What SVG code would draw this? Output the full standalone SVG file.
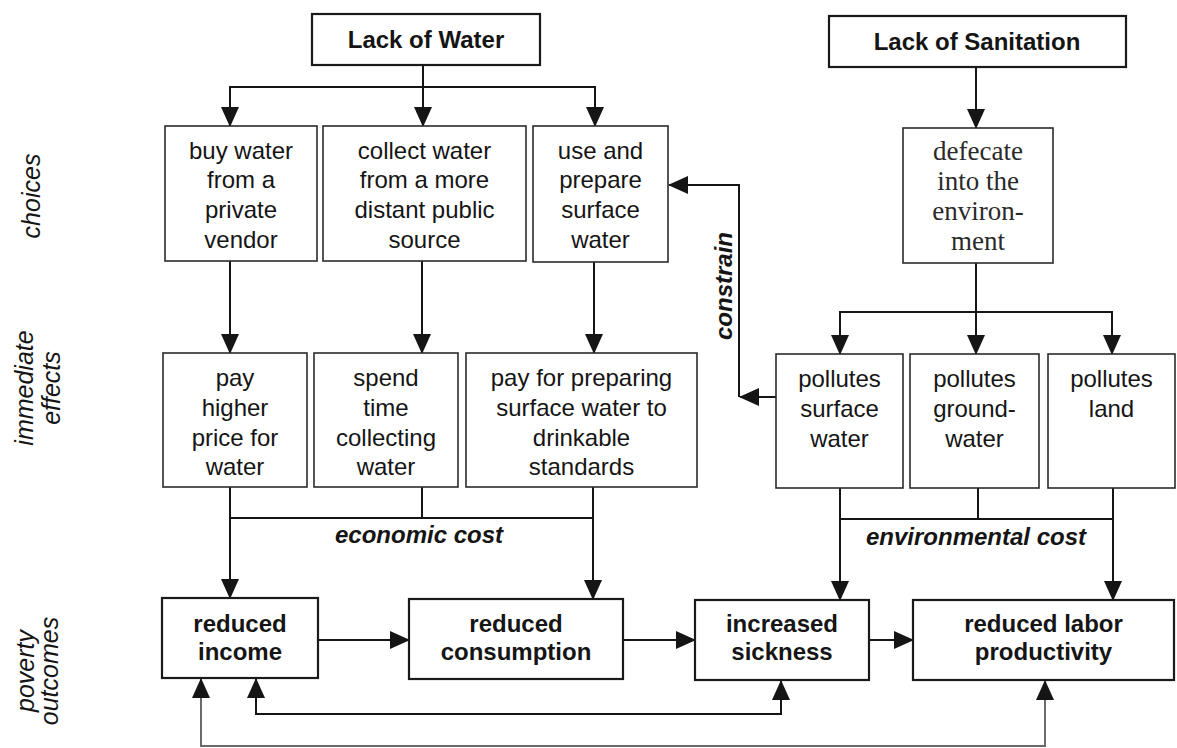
<svg xmlns="http://www.w3.org/2000/svg" width="1177" height="748" viewBox="0 0 1177 748">
<defs>
<style>
.box{fill:#fff;stroke:#2b2b2b;stroke-width:1.6}
.bx2{stroke:#1a1a1a;stroke-width:2.2}
.t{font-family:"Liberation Sans",Arial,Helvetica,sans-serif;font-size:24px;fill:#151515;text-anchor:middle}
.b{font-weight:bold}
.i{font-style:italic}
.s{font-family:"Liberation Serif","Times New Roman",serif;font-size:27px;fill:#2a2a2a}
.lab{font-size:25px}
.c{fill:none;stroke:#151515;stroke-width:2}
.g{stroke:#6a6a6a}
</style>
<marker id="ah" markerUnits="userSpaceOnUse" markerWidth="20" markerHeight="18" refX="19" refY="9" orient="auto-start-reverse" viewBox="0 0 20 18">
<path d="M0,0 L20,9 L0,18 z" fill="#151515"/>
</marker>
</defs>
<rect width="1177" height="748" fill="#fff"/>

<g id="labels">
<text class="t i lab" transform="translate(40,196) rotate(-90)">choices</text>
<text class="t i lab" transform="translate(33,388) rotate(-90)">immediate</text>
<text class="t i lab" transform="translate(60,388) rotate(-90)">effects</text>
<text class="t i lab" transform="translate(34,671) rotate(-90)">poverty</text>
<text class="t i lab" transform="translate(58,671) rotate(-90)">outcomes</text>
</g>

<g id="connectors">
<path class="c" d="M423,65 V126" marker-end="url(#ah)"/>
<path class="c" d="M423,87 H230 V126" marker-end="url(#ah)"/>
<path class="c" d="M423,87 H595 V126" marker-end="url(#ah)"/>
<path class="c" d="M230,261 V353" marker-end="url(#ah)"/>
<path class="c" d="M422,261 V353" marker-end="url(#ah)"/>
<path class="c" d="M594,262 V353" marker-end="url(#ah)"/>
<path class="c" d="M976,67 V128" marker-end="url(#ah)"/>
<path class="c" d="M976,263 V354" marker-end="url(#ah)"/>
<path class="c" d="M976,312 H840 V354" marker-end="url(#ah)"/>
<path class="c" d="M976,312 H1112 V354" marker-end="url(#ah)"/>
<path class="c" d="M776,397 H740" marker-end="url(#ah)"/>
<path class="c" d="M739,397 V185 H669" marker-end="url(#ah)"/>
<path class="c" d="M230,487 V598" marker-end="url(#ah)"/>
<path class="c" d="M422,487 V518"/>
<path class="c" d="M230,518 H593"/>
<path class="c" d="M593,487 V599" marker-end="url(#ah)"/>
<path class="c" d="M840,488 V600" marker-end="url(#ah)"/>
<path class="c" d="M978,488 V519"/>
<path class="c" d="M840,519 H1113"/>
<path class="c" d="M1113,488 V600" marker-end="url(#ah)"/>
<path class="c" d="M318,640 H409" marker-end="url(#ah)"/>
<path class="c" d="M623,640 H695" marker-end="url(#ah)"/>
<path class="c" d="M869,640 H913" marker-end="url(#ah)"/>
<path class="c" d="M256,679 V714 H781 V681" marker-start="url(#ah)" marker-end="url(#ah)"/>
<path class="c g" d="M201,679 V746 H1045 V681" marker-start="url(#ah)" marker-end="url(#ah)"/>
<text class="t b i" x="419" y="543">economic cost</text>
<text class="t b i" x="976" y="545">environmental cost</text>
<text class="t b i" transform="translate(732,286) rotate(-90)">constrain</text>
</g>

<g id="lack-of-water">
<rect class="box bx2" x="312" y="14" width="228" height="51"/>
<text class="t b" x="426" y="48">Lack of Water</text>
</g>
<g id="lack-of-sanitation">
<rect class="box bx2" x="829" y="16" width="297" height="51"/>
<text class="t b" x="977" y="50">Lack of Sanitation</text>
</g>

<g id="buy-water">
<rect class="box" x="165" y="126" width="152" height="135"/>
<text class="t" x="241" y="159">buy water</text>
<text class="t" x="241" y="188">from a</text>
<text class="t" x="241" y="218">private</text>
<text class="t" x="241" y="248">vendor</text>
</g>
<g id="collect-water">
<rect class="box" x="323" y="126" width="203" height="135"/>
<text class="t" x="424.5" y="159">collect water</text>
<text class="t" x="424.5" y="188">from a more</text>
<text class="t" x="424.5" y="218">distant public</text>
<text class="t" x="424.5" y="248">source</text>
</g>
<g id="use-surface-water">
<rect class="box" x="533" y="126" width="135" height="136"/>
<text class="t" x="600.5" y="159">use and</text>
<text class="t" x="600.5" y="188">prepare</text>
<text class="t" x="600.5" y="218">surface</text>
<text class="t" x="600.5" y="248">water</text>
</g>
<g id="defecate">
<rect class="box" x="903" y="128" width="150" height="135"/>
<text class="t s" x="978" y="160">defecate</text>
<text class="t s" x="978" y="190">into the</text>
<text class="t s" x="978" y="220">environ-</text>
<text class="t s" x="978" y="250">ment</text>
</g>

<g id="pay-higher-price">
<rect class="box" x="163" y="353" width="144" height="134"/>
<text class="t" x="235" y="386">pay</text>
<text class="t" x="235" y="416">higher</text>
<text class="t" x="235" y="446">price for</text>
<text class="t" x="235" y="475">water</text>
</g>
<g id="spend-time">
<rect class="box" x="314" y="353" width="144" height="134"/>
<text class="t" x="386" y="386">spend</text>
<text class="t" x="386" y="416">time</text>
<text class="t" x="386" y="446">collecting</text>
<text class="t" x="386" y="475">water</text>
</g>
<g id="pay-for-preparing">
<rect class="box" x="466" y="353" width="231" height="134"/>
<text class="t" x="581.5" y="386">pay for preparing</text>
<text class="t" x="581.5" y="416">surface water to</text>
<text class="t" x="581.5" y="446">drinkable</text>
<text class="t" x="581.5" y="475">standards</text>
</g>
<g id="pollutes-surface-water">
<rect class="box" x="776" y="354" width="127" height="134"/>
<text class="t" x="839.5" y="387">pollutes</text>
<text class="t" x="839.5" y="417">surface</text>
<text class="t" x="839.5" y="447">water</text>
</g>
<g id="pollutes-groundwater">
<rect class="box" x="910" y="354" width="129" height="134"/>
<text class="t" x="974.5" y="387">pollutes</text>
<text class="t" x="974.5" y="417">ground-</text>
<text class="t" x="974.5" y="447">water</text>
</g>
<g id="pollutes-land">
<rect class="box" x="1048" y="354" width="127" height="134"/>
<text class="t" x="1111.5" y="387">pollutes</text>
<text class="t" x="1111.5" y="417">land</text>
</g>

<g id="reduced-income">
<rect class="box bx2" x="162" y="598" width="156" height="80"/>
<text class="t b" x="240" y="632">reduced</text>
<text class="t b" x="240" y="660">income</text>
</g>
<g id="reduced-consumption">
<rect class="box bx2" x="409" y="599" width="214" height="80"/>
<text class="t b" x="516" y="632">reduced</text>
<text class="t b" x="516" y="660">consumption</text>
</g>
<g id="increased-sickness">
<rect class="box bx2" x="695" y="600" width="174" height="80"/>
<text class="t b" x="782" y="632">increased</text>
<text class="t b" x="782" y="660">sickness</text>
</g>
<g id="reduced-labor-productivity">
<rect class="box bx2" x="913" y="600" width="261" height="80"/>
<text class="t b" x="1043.5" y="632">reduced labor</text>
<text class="t b" x="1043.5" y="660">productivity</text>
</g>
</svg>
